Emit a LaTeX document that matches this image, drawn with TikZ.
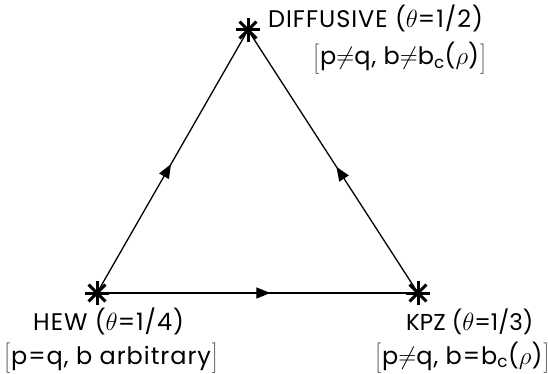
\documentclass[tikz,border=0pt]{standalone}
\usepackage{fontspec}
\setmainfont{Poppins}[LetterSpace=4]
\newfontfamily\tightfont{Poppins}
\usetikzlibrary{arrows.meta,decorations.markings}
\tikzset{
    asterisk/.style={
        circle, inner sep=0pt, minimum size=28pt,
        path picture={
            \foreach \a in {0,45,90,135}
                \draw [line width=3pt]
                (path picture bounding box.center) +(\a:12pt) -- +(\a+180:12pt);
        }
    },
    flow/.style={
        line width=1.3pt,
        postaction=decorate,
        decoration={markings,
        mark=at position #1 with {\arrow{Triangle[length=14pt,width=11pt]}}
        }
    },
    regime/.style={font=\fontsize{24}{28}\selectfont, inner sep=0pt}
}
\newcommand{\lbrk}{$\left[\rule[-10pt]{0pt}{31pt}\right.$}
\newcommand{\rbrk}{$\left.\rule[-10pt]{0pt}{31pt}\right]$}

\begin{document}
\begin{tikzpicture}[x=1pt, y=-1pt]
                \useasboundingbox (0,0) rectangle (548,374);

                \node [asterisk] (diff) at (248, 30) {};
                \node [asterisk] (hew) at (97, 293) {};
                \node [asterisk] (kpz) at (418, 293) {};

                \draw [flow=0.49] (hew.center) -- (diff.center);
                \draw [flow=0.48] (kpz.center) -- (diff.center);
                \draw [flow=0.54] (hew.center) -- (kpz.center);

                % labels of the three regimes
                \node [regime, anchor=base west] (difftitle) at (268, 28) {DIFFUSIVE ($\theta$=1/2)};
                \node [regime, anchor=base west] (diffcond) at (313, 65) {\lbrk p$\neq$q, b$\neq$b$_\mathrm{c}$($\rho$)\rbrk};
                \node [regime, anchor=base west] (hewtitle) at (33, 330) {HEW ($\theta$=1/4)};
                \node [regime, anchor=base west] (hewcond) at (4, 364) {\lbrk p=q, b arbitrary\rbrk};
                \node [regime, anchor=base west, font=\fontsize{23}{27}\tightfont] (kpztitle) at (406, 330) {KPZ ($\theta$=1/3)};
                \node [regime, anchor=base west] (kpzcond) at (375, 364) {\lbrk p$\neq$q, b=b$_\mathrm{c}$($\rho$)\rbrk};
\end{tikzpicture}
\end{document}
